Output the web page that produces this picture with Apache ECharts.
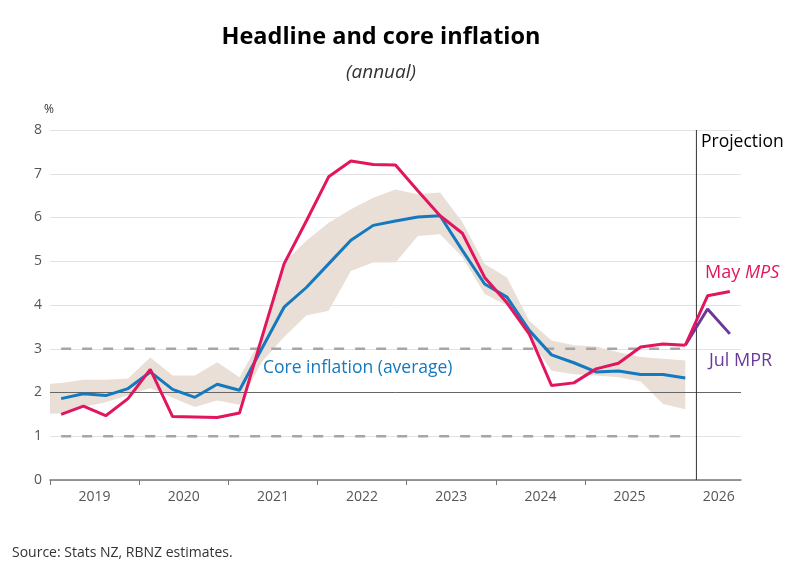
<!DOCTYPE html>
<html>
<head>
<meta charset="utf-8">
<script src="https://cdn.jsdelivr.net/npm/echarts@6/dist/echarts.min.js"></script>
<style>
  html, body { margin: 0; padding: 0; background: #fff; }
  #chart { width: 800px; height: 568px; }
</style>
</head>
<body>
<div id="chart"></div>
<script>
// quarters from 2019 Q1; point i sits in the middle of quarter i
var years = [2019, 2020, 2021, 2022, 2023, 2024, 2025, 2026];
var headline = [1.50, 1.69, 1.47, 1.86, 2.53, 1.45, 1.44, 1.43, 1.53, 3.25,
  4.94, 5.92, 6.93, 7.29, 7.21, 7.20, 6.61, 6.04, 5.64, 4.63,
  4.05, 3.34, 2.16, 2.22, 2.54, 2.67, 3.04, 3.11, 3.08];
var mayMPS = [3.08, 4.21, 4.31];   // quarters 28..30
var julMPR = [3.08, 3.91, 3.34];   // quarters 28..30
var core = [1.86, 1.97, 1.93, 2.09, 2.47, 2.07, 1.89, 2.19, 2.05, 3.00,
  3.95, 4.40, 4.94, 5.48, 5.82, 5.92, 6.01, 6.04, 5.25, 4.48,
  4.18, 3.42, 2.86, 2.68, 2.47, 2.49, 2.41, 2.41, 2.33];
// range of core measures; first value is at the left edge of the axis
var rangeTop = [2.20, 2.22, 2.29, 2.29, 2.32, 2.80, 2.39, 2.39, 2.69, 2.35, 3.25,
  4.97, 5.47, 5.88, 6.19, 6.45, 6.64, 6.53, 6.57, 5.90, 4.94,
  4.63, 3.64, 3.19, 3.08, 3.05, 2.92, 2.81, 2.77, 2.73];
var rangeBottom = [1.52, 1.52, 1.67, 1.78, 1.94, 2.10, 1.88, 1.67, 1.82, 1.72, 2.70,
  3.27, 3.76, 3.87, 4.78, 4.97, 4.97, 5.58, 5.62, 5.10, 4.25,
  3.99, 3.26, 2.50, 2.42, 2.39, 2.35, 2.25, 1.74, 1.62];

var nQuarters = 31;
var projStart = 29;

function pts(arr, start) {
  var out = [];
  for (var i = 0; i < arr.length; i++) out.push([start + i + 0.5, arr[i]]);
  return out;
}
var bandData = [];
for (var i = 0; i < rangeTop.length; i++) {
  bandData.push([i === 0 ? 0 : i - 0.5, rangeBottom[i], rangeTop[i]]);
}
var yearTicks = [], yearLabels = [];
for (var k = 0; k < years.length; k++) {
  yearTicks.push(k * 4);
  yearLabels.push(k * 4 + 2);
}
yearTicks.pop();

var font = 'Open Sans';
var chart = echarts.init(document.getElementById('chart'));
chart.setOption({
  animation: false,
  backgroundColor: '#fff',
  textStyle: { fontFamily: font },
  grid: { left: 50, right: 59, top: 130, bottom: 88 },
  xAxis: {
    type: 'value',
    min: 0,
    max: nQuarters,
    axisLine: { lineStyle: { color: '#777', width: 1.5 } },
    axisTick: { customValues: yearTicks, length: 5, lineStyle: { color: '#777' } },
    axisLabel: {
      customValues: yearLabels,
      color: '#555',
      fontSize: 14,
      margin: 10,
      formatter: function (v) { return String(years[(v - 2) / 4]); }
    },
    splitLine: { show: false }
  },
  yAxis: {
    type: 'value',
    min: 0,
    max: 8,
    interval: 1,
    name: '%',
    nameLocation: 'end',
    nameGap: 14,
    nameTextStyle: { color: '#333', fontSize: 12, align: 'right', padding: [0, -4, 0, 0] },
    axisLine: { show: false },
    axisTick: { show: false },
    axisLabel: { color: '#555', fontSize: 14, margin: 8 },
    splitLine: { lineStyle: { color: '#e3e3e3', width: 1 } }
  },
  series: [
    {
      type: 'custom',
      data: bandData,
      encode: { x: 0, y: [1, 2] },
      z: 1,
      renderItem: function (params, api) {
        if (params.dataIndex !== 0) return null;
        var upper = [], lower = [];
        for (var j = 0; j < bandData.length; j++) {
          upper.push(api.coord([bandData[j][0], bandData[j][2]]));
          lower.unshift(api.coord([bandData[j][0], bandData[j][1]]));
        }
        return {
          type: 'polygon',
          shape: { points: upper.concat(lower) },
          style: { fill: '#e9dfd7' }
        };
      }
    },
    {
      type: 'line', data: [[0.5, 3], [28.5, 3]], symbol: 'none', z: 2,
      lineStyle: { color: '#a6a6a6', width: 2.5, type: [10, 11] }
    },
    {
      type: 'line', data: [[0.5, 1], [28.5, 1]], symbol: 'none', z: 2,
      lineStyle: { color: '#a6a6a6', width: 2.5, type: [10, 11] }
    },
    {
      type: 'line', data: [[0, 2], [nQuarters, 2]], symbol: 'none', z: 2,
      lineStyle: { color: '#666', width: 1 }
    },
    {
      type: 'line', data: [[projStart, 0], [projStart, 8]], symbol: 'none', z: 2,
      lineStyle: { color: '#333', width: 1 }
    },
    {
      name: 'Core inflation (average)', type: 'line', data: pts(core, 0), symbol: 'none', z: 3,
      lineStyle: { color: '#1479bf', width: 3 }
    },
    {
      name: 'Jul MPR', type: 'line', data: pts(julMPR, 28), symbol: 'none', z: 4,
      lineStyle: { color: '#6a3a9a', width: 3 }
    },
    {
      name: 'Headline', type: 'line', data: pts(headline, 0), symbol: 'none', z: 5,
      lineStyle: { color: '#e2165f', width: 3 }
    },
    {
      name: 'May MPS', type: 'line', data: pts(mayMPS, 28), symbol: 'none', z: 5,
      lineStyle: { color: '#e2165f', width: 3 }
    }
  ],
  graphic: [
    {
      type: 'text', x: 381, y: 37, z: 100,
      style: {
        text: 'Headline and core inflation', fill: '#000', align: 'center', verticalAlign: 'middle',
        font: 'bold 23.5px "' + font + '"'
      }
    },
    {
      type: 'text', x: 381, y: 73, z: 100,
      style: {
        text: '(annual)', fill: '#333', align: 'center', verticalAlign: 'middle',
        font: 'italic 19px "' + font + '"'
      }
    },
    {
      type: 'text', x: 701, y: 142, z: 100,
      style: { text: 'Projection', fill: '#000', verticalAlign: 'middle', font: '17.5px "' + font + '"' }
    },
    {
      type: 'text', x: 263, y: 368, z: 100,
      style: { text: 'Core inflation (average)', fill: '#1479bf', verticalAlign: 'middle', font: '17.5px "' + font + '"' }
    },
    {
      type: 'text', x: 705, y: 273, z: 100,
      style: {
        text: 'May {i|MPS}', fill: '#e2165f', verticalAlign: 'middle', font: '18px "' + font + '"',
        rich: { i: { fontStyle: 'italic', fontSize: 18, fontFamily: font, fill: '#e2165f' } }
      }
    },
    {
      type: 'text', x: 709, y: 361, z: 100,
      style: { text: 'Jul MPR', fill: '#6a3a9a', verticalAlign: 'middle', font: '18px "' + font + '"' }
    },
    {
      type: 'text', x: 12, y: 553, z: 100,
      style: { text: 'Source: Stats NZ, RBNZ estimates.', fill: '#333', verticalAlign: 'middle', font: '14px "' + font + '"' }
    }
  ]
});
</script>
</body>
</html>
